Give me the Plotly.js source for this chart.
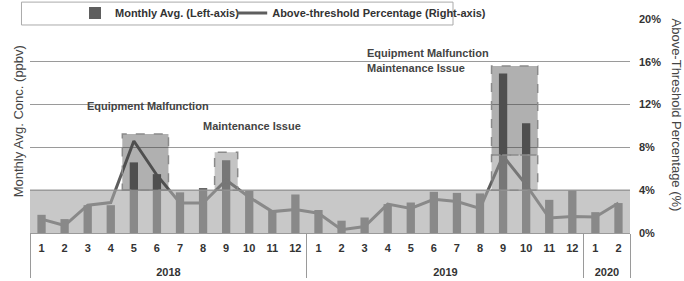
<!DOCTYPE html>
<html>
<head>
<meta charset="utf-8">
<script src="https://cdn.plot.ly/plotly-3.0.1.min.js"></script>
<style>html,body{margin:0;padding:0;background:#fff;}#chart{width:684px;height:281px;}</style>
</head>
<body>
<div id="chart"></div>
<script>
const years = ['2018','2018','2018','2018','2018','2018','2018','2018','2018','2018','2018','2018',
               '2019','2019','2019','2019','2019','2019','2019','2019','2019','2019','2019','2019',
               '2020','2020'];
const months = ['1','2','3','4','5','6','7','8','9','10','11','12',
                '1','2','3','4','5','6','7','8','9','10','11','12',
                '1','2'];
const monthlyAvg = [1.7,1.3,2.6,2.6,6.6,5.5,3.8,4.2,6.8,3.95,2.1,3.6,
                    2.15,1.15,1.45,2.7,2.85,3.85,3.75,3.7,14.9,10.25,3.1,4.0,
                    1.95,2.8];
const abovePct = [1.3,0.7,2.6,2.85,8.6,5.4,2.8,2.8,4.95,3.35,2.0,2.2,
                  1.85,0.3,0.6,2.7,2.3,3.15,2.95,2.3,7.2,4.5,1.4,1.55,
                  1.5,2.8];
const pctTicks = [0,4,8,12,16,20];
const pctTickText = ['0%','4%','8%','12%','16%','20%'];
const thresholdPct = 4;

// year row label placed one line lower than the month row (as in the reference)
const yearLabels = years.map(y => '<br>' + y);

const FONT = 'Liberation Sans, Arial, sans-serif';
const barColor = '#5e5e5e';

const traces = [
  {type:'bar', name:'<b>Monthly Avg. (Left-axis)</b>', x:[yearLabels, months], y:monthlyAvg,
   marker:{color:barColor}, width:0.36, yaxis:'y', legend:'legend'},
  {type:'scatter', mode:'lines', name:'<b>Above-threshold Percentage (Right-axis)</b>', x:[yearLabels, months], y:abovePct,
   line:{color:barColor, width:3}, yaxis:'y2', legend:'legend2'}
];

const EM = 'rgba(57,57,57,0.40)';
const MI = 'rgba(142,142,142,0.52)';
const dashLine = {color:'#8a8a8a', width:1.5, dash:'dash'};

const shapes = [
  {type:'rect', layer:'above', xref:'paper', yref:'y2', x0:0, x1:1, y0:0, y1:thresholdPct,
   fillcolor:'rgba(165,165,165,0.61)', line:{width:0}},
  {type:'line', layer:'above', xref:'paper', yref:'y2', x0:0, x1:1, y0:thresholdPct, y1:thresholdPct,
   line:{color:'#9a9a9a', width:1.2}},
  {type:'rect', layer:'above', xref:'x', yref:'y2', x0:3.5, x1:5.5, y0:4, y1:9.25, fillcolor:EM, line:dashLine},
  {type:'rect', layer:'above', xref:'x', yref:'y2', x0:7.5, x1:8.5, y0:4, y1:7.55, fillcolor:MI, line:dashLine},
  {type:'rect', layer:'above', xref:'x', yref:'y2', x0:19.5, x1:21.5, y0:7.3, y1:15.6, fillcolor:EM, line:dashLine},
  {type:'rect', layer:'above', xref:'x', yref:'y2', x0:19.5, x1:21.5, y0:4, y1:7.3, fillcolor:MI, line:dashLine},
  {type:'rect', layer:'above', xref:'paper', yref:'paper', x0:-0.0142, x1:0.705, y0:0.972, y1:1.079,
   fillcolor:'#ffffff', line:{color:'#aaaaaa', width:1}}
];

const annFont = {family:FONT, size:11, color:'#444', weight:'bold'};
const annotations = [
  {xref:'x', yref:'y2', x:4.6, y:11.9, text:'<b>Equipment Malfunction</b>', showarrow:false, font:annFont},
  {xref:'x', yref:'y2', x:9.1, y:10.0, text:'<b>Maintenance Issue</b>', showarrow:false, font:annFont},
  {xref:'x', yref:'y2', x:14.0, y:16.85, text:'<b>Equipment Malfunction</b>', showarrow:false, font:annFont, xanchor:'left'},
  {xref:'x', yref:'y2', x:14.0, y:15.4, text:'<b>Maintenance Issue</b>', showarrow:false, font:annFont, xanchor:'left'},
  {xref:'paper', yref:'paper', x:-0.019, y:0.52, xanchor:'center', yanchor:'middle', text:'Monthly Avg. Conc. (ppbv)', textangle:-90, showarrow:false,
   font:{family:FONT, size:13, color:'#444'}},
  {xref:'paper', yref:'paper', x:1.078, y:0.55, xanchor:'center', yanchor:'middle', text:'Above-Threshold Percentage (%)', textangle:90, showarrow:false,
   font:{family:FONT, size:13, color:'#444'}}
];

const legendBase = {orientation:'h', xanchor:'left', y:1.028, yanchor:'middle', bgcolor:'rgba(0,0,0,0)',
                    font:{family:FONT, size:11, color:'#333'}, itemwidth:30};

const layout = {
  width:684, height:281,
  margin:{l:29.5, r:54, t:19, b:48, autoexpand:false},
  paper_bgcolor:'#fff', plot_bgcolor:'#fff',
  font:{family:FONT, color:'#333'},
  showlegend:true,
  legend:Object.assign({}, legendBase, {x:0.075}),
  legend2:Object.assign({}, legendBase, {x:0.337}),
  bargap:0.5,
  xaxis:{type:'multicategory', showline:true, linecolor:'#9a9a9a', linewidth:1,
         showdividers:true, dividercolor:'#9a9a9a', dividerwidth:1, ticks:'', ticklabelstandoff:5,
         tickfont:{family:FONT, size:11, color:'#333', weight:'bold'}, showgrid:false, zeroline:false},
  yaxis:{range:[0,20], tickvals:pctTicks, showticklabels:false, showgrid:true, gridcolor:'#9a9a9a', gridwidth:1,
         zeroline:false, showline:false, ticks:'', fixedrange:true},
  yaxis2:{range:[0,20], overlaying:'y', side:'right', tickvals:pctTicks, ticktext:pctTickText,
          showgrid:false, zeroline:false, showline:false, ticks:'', ticklabelstandoff:8,
          tickfont:{family:FONT, size:11, color:'#333', weight:'bold'}},
  shapes:shapes,
  annotations:annotations
};

Plotly.newPlot('chart', traces, layout, {staticPlot:true, displayModeBar:false});
</script>
</body>
</html>
